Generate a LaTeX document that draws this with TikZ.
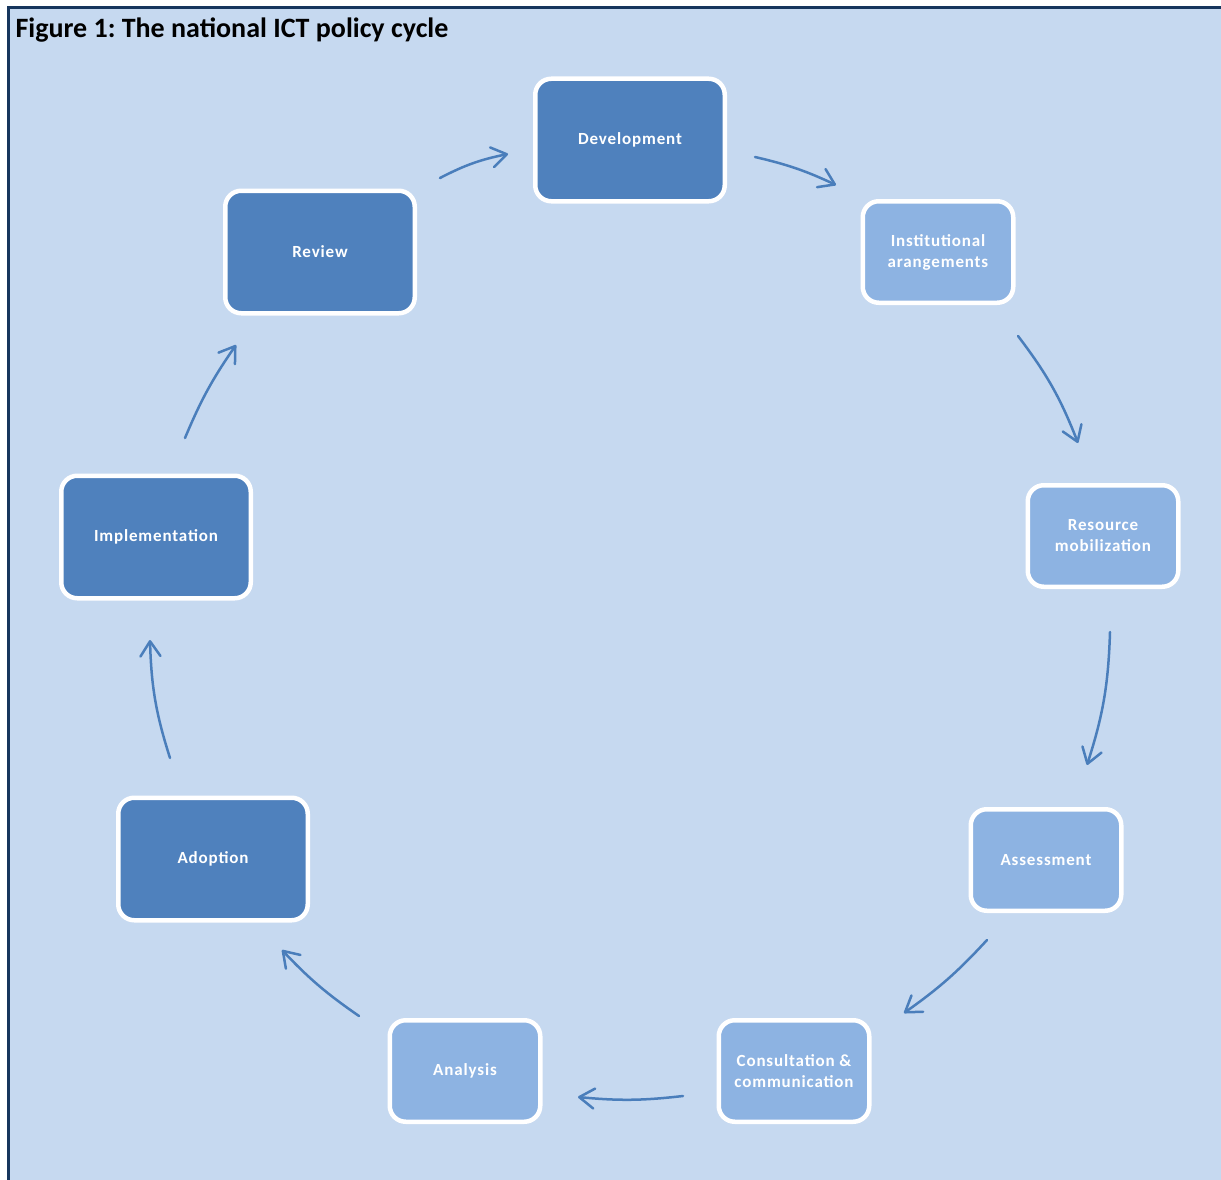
\documentclass[tikz,border=0pt]{standalone}
\usepackage{fontspec}
\setmainfont{Carlito}
\newfontfamily\boxfont[LetterSpace=5]{Carlito}
\frenchspacing
\usetikzlibrary{arrows.meta}
\definecolor{bgc}{HTML}{C6D9F0}
\definecolor{framec}{HTML}{17365D}
\definecolor{darkc}{HTML}{4F81BD}
\definecolor{lightc}{HTML}{8DB3E2}
\definecolor{arrc}{HTML}{4A7EBB}
\begin{document}
\begin{tikzpicture}[x=1pt,y=-1pt,
  box/.style={rounded corners=16pt, draw=white, line width=4.5pt, text=white,
    font=\boxfont\fontsize{17}{21}\selectfont\bfseries, align=center, inner sep=0pt},
  darkbox/.style={box, fill=darkc, minimum width=189.5pt, minimum height=122.5pt},
  lightbox/.style={box, fill=lightc, minimum width=150.5pt, minimum height=101.5pt},
  flow/.style={draw=arrc, line width=2.5pt, line cap=round,
    -{Straight Barb[length=15pt,width=20pt,line cap=round,line join=round]}}]
\useasboundingbox (0,0) rectangle (1221,1180);
\fill[bgc] (8,8) rectangle (1221,1180);
\draw[framec, line width=3pt] (8,1180) -- (8,8) -- (1221,8);
\node[anchor=west, font=\fontsize{28}{33}\selectfont\bfseries] (title) at (12,30) {Figure 1: The national ICT policy cycle};

\node[darkbox] (dev) at (630,140) {Development};
\node[lightbox] (inst) at (938,252) {Institutional\\arangements};
\node[lightbox] (res) at (1103,536) {Resource\\mobilization};
\node[lightbox] (ass) at (1046,860) {Assessment};
\node[lightbox] (con) at (794,1071) {Consultation \&\\communication};
\node[lightbox] (ana) at (465,1071) {Analysis};
\node[darkbox] (ado) at (213,859) {Adoption};
\node[darkbox] (imp) at (156,537) {Implementation};
\node[darkbox] (rev) at (320,252) {Review};

\coordinate (a1s) at (440,178); \coordinate (a1e) at (508,154);
\coordinate (a2s) at (755,157); \coordinate (a2e) at (836,185);
\coordinate (a3s) at (1018,336); \coordinate (a3e) at (1078,443);
\coordinate (a4s) at (1110,632); \coordinate (a4e) at (1087,765);
\coordinate (a5s) at (987,940); \coordinate (a5e) at (904,1013);
\coordinate (a6s) at (683,1096); \coordinate (a6e) at (578,1097);
\coordinate (a7s) at (359,1016); \coordinate (a7e) at (282,950);
\coordinate (a8s) at (170,758); \coordinate (a8e) at (150,640);
\coordinate (a9s) at (185,438); \coordinate (a9e) at (236,345);

\draw[flow] (a1s) to[bend left=8] (a1e);
\draw[flow] (a2s) to[bend left=6] (a2e);
\draw[flow] (a3s) to[bend left=8] (a3e);
\draw[flow] (a4s) to[bend left=8] (a4e);
\draw[flow] (a5s) to[bend left=6] (a5e);
\draw[flow] (a6s) to[bend left=6] (a6e);
\draw[flow] (a7s) to[bend left=6] (a7e);
\draw[flow] (a8s) to[bend left=8] (a8e);
\draw[flow] (a9s) to[bend left=6] (a9e);
\end{tikzpicture}
\end{document}
